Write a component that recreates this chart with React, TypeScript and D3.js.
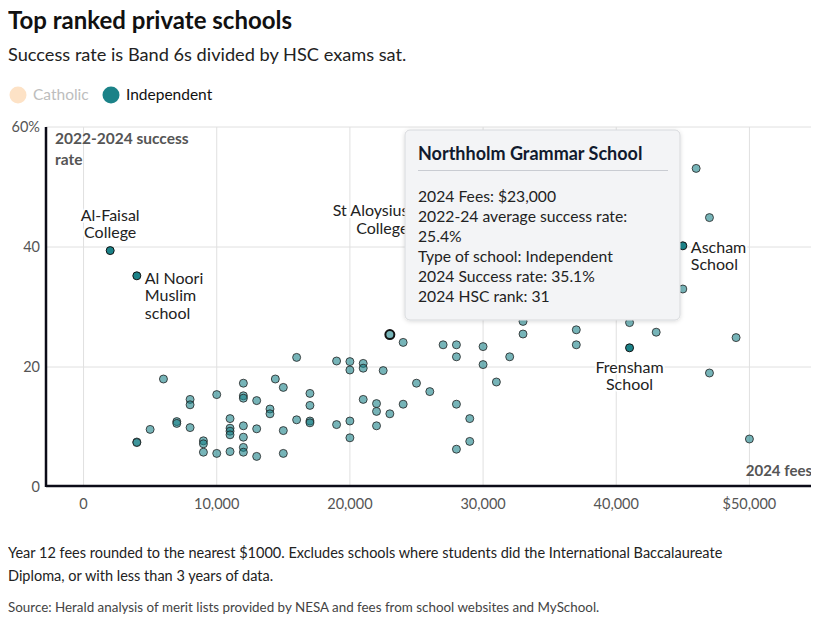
import React from "react";
import * as d3 from "d3";

// ---- DATA ----
const fees: number[] = [
  4000, 4000, 5000, 6000, 7000, 7000, 8000, 8000, 8000, 9000, 9000, 9000,
  10000, 10000, 11000, 11000, 11000, 11000, 11000, 12000, 12000, 12000, 12000,
  12000, 12000, 12000, 13000, 13000, 13000, 14000, 14000, 14400, 15000, 15000,
  15000, 16000, 16000, 17000, 17000, 17000, 17000, 19000, 19000, 20000, 20000,
  20000, 20000, 21000, 21000, 21000, 22000, 22000, 22000, 22500, 23000, 24000,
  24000, 25000, 26000, 27000, 28000, 28000, 28000, 28000, 29000, 29000, 30000,
  30000, 31000, 32000, 33000, 33000, 37000, 37000, 41000, 43000, 45000, 46000,
  47000, 47000, 49000, 50000,
];
const rates: number[] = [
  7.5, 7.4, 9.6, 18.0, 10.9, 10.6, 14.6, 13.7, 9.9, 7.7, 7.2, 5.8,
  15.4, 5.6, 11.4, 9.8, 9.3, 8.7, 5.9, 17.3, 15.2, 14.8, 10.2,
  8.3, 6.6, 5.8, 14.4, 9.7, 5.1, 13.0, 12.2, 18.0, 16.6, 9.4,
  5.6, 21.6, 11.2, 15.6, 13.6, 11.0, 10.7, 21.0, 10.4, 20.9, 19.5,
  11.0, 8.2, 20.6, 19.8, 14.6, 13.9, 12.6, 10.2, 19.4, 12.2, 24.1,
  13.8, 17.3, 15.9, 23.7, 23.7, 21.7, 13.8, 6.3, 11.4, 7.6, 23.4,
  20.4, 17.5, 21.7, 27.6, 25.5, 26.2, 23.7, 27.4, 25.8, 33.0, 53.1,
  44.9, 19.0, 24.9, 8.0,
];

const labelNames: string[] = ["Al-Faisal College", "Al Noori Muslim school", "St Aloysius College", "Ascham School", "Frensham School"];
const labelFees: number[] = [2000, 4000, 25000, 45000, 41000];
const labelRates: number[] = [39.4, 35.2, 40.0, 40.2, 23.2];

const highlight = { name: "Northholm Grammar School", fee: 23000, rate: 25.4, type: "Independent", rate2024: 35.1, rank: 31 };

const xTicks: number[] = [0, 10000, 20000, 30000, 40000, 50000];
const yTicks: number[] = [0, 20, 40, 60];
const legendItems: string[] = ["Catholic", "Independent"];

const FONT = "Lato, 'Open Sans', sans-serif";
const TEAL = "#1b8288";

export default function App() {
  const left = 46, right = 812, top = 127, bottom = 487;
  const x = d3.scaleLinear().domain([-2820, 54700]).range([left, right]);
  const y = d3.scaleLinear().domain([0, 60]).range([bottom, top]);
  const fmt = d3.format(",");

  const pts = fees.map((f, i) => ({ f, r: rates[i] }));

  const labelLayout: { [k: string]: { dx: number; dy: number; anchor: string; lines: string[] } } = {
    "Al-Faisal College": { dx: 0, dy: -30, anchor: "middle", lines: ["Al-Faisal", "College"] },
    "Al Noori Muslim school": { dx: 8, dy: 8, anchor: "start", lines: ["Al Noori", "Muslim", "school"] },
    "St Aloysius College": { dx: -8, dy: -31, anchor: "end", lines: ["St Aloysius", "College"] },
    "Ascham School": { dx: 8, dy: 7, anchor: "start", lines: ["Ascham", "School"] },
    "Frensham School": { dx: 0, dy: 25, anchor: "middle", lines: ["Frensham", "School"] },
  };

  return (
    <svg width={811} height={623} style={{ display: "block", overflow: "visible" }}>
      <defs>
        <filter id="sh" x="-10%" y="-10%" width="120%" height="130%">
          <feDropShadow dx="0" dy="1" stdDeviation="2" floodColor="#000" floodOpacity="0.15" />
        </filter>
      </defs>
      <g transform="translate(-8,-8)" fontFamily={FONT}>
        {/* Title */}
        <text x={8} y={29} fontSize={24} fontWeight={700} fill="#111">Top ranked private schools</text>
        <text x={8} y={61} fontSize={18.2} fill="#222">Success rate is Band 6s divided by HSC exams sat.</text>
        {/* Legend */}
        <circle cx={18} cy={95} r={8.5} fill="#fde2c6" />
        <text x={33} y={100} fontSize={15.5} fill="#bdbdbd">{legendItems[0]}</text>
        <circle cx={111} cy={95} r={8.5} fill={TEAL} />
        <text x={126} y={100} fontSize={15.5} fill="#111">{legendItems[1]}</text>

        {/* Grid */}
        {yTicks.filter((t) => t > 0).map((t) => (
          <line key={"gy" + t} x1={left} x2={right} y1={y(t)} y2={y(t)} stroke="#e0e0e0" />
        ))}
        {xTicks.map((t) => (
          <line key={"gx" + t} x1={x(t)} x2={x(t)} y1={top} y2={bottom} stroke="#e0e0e0" />
        ))}
        {/* Y tick labels */}
        {yTicks.map((t) => (
          <text key={"yl" + t} x={40} y={y(t) + 5} textAnchor="end" fontSize={14.5} fill="#555">
            {t === 60 ? "60%" : t}
          </text>
        ))}
        {/* X tick labels */}
        {xTicks.map((t) => (
          <text key={"xl" + t} x={x(t)} y={509} textAnchor="middle" fontSize={14.5} fill="#555">
            {t === 50000 ? "$" + fmt(t) : fmt(t)}
          </text>
        ))}
        {/* Axis titles */}
        <text x={55} y={144} fontSize={15.5} fontWeight={700} fill="#555">2022-2024 success</text>
        <text x={55} y={165} fontSize={15.5} fontWeight={700} fill="#555">rate</text>
        <text x={812} y={476} textAnchor="end" fontSize={15} fontWeight={700} fill="#555">2024 fees</text>

        {/* Points */}
        {pts.map((p, i) => (
          <circle key={"p" + i} cx={x(p.f)} cy={y(p.r)} r={4} fill={TEAL} fillOpacity={0.6} stroke="#222" strokeOpacity={0.8} strokeWidth={1} />
        ))}
        {/* Labelled points */}
        {labelNames.map((n, i) => (
          <circle key={"lp" + i} cx={x(labelFees[i])} cy={y(labelRates[i])} r={4} fill={TEAL} stroke="#111" strokeWidth={1} />
        ))}
        {/* Highlighted */}
        <circle cx={x(highlight.fee)} cy={y(highlight.rate)} r={4.5} fill={TEAL} fillOpacity={0.6} stroke="#111" strokeWidth={2} />

        {/* Axis lines */}
        <line x1={left} x2={left} y1={top} y2={bottom} stroke="#0c0c18" strokeWidth={2.5} />
        <line x1={left} x2={right} y1={486} y2={486} stroke="#0c0c18" strokeWidth={2.5} />

        {/* Annotation labels */}
        {labelNames.map((n, i) => {
          const L = labelLayout[n];
          const cx = x(labelFees[i]) + L.dx;
          const cy = y(labelRates[i]) + L.dy;
          return (
            <text key={"lab" + i} x={cx} y={cy} textAnchor={L.anchor} fontSize={16} fill="#222"
              stroke="#fff" strokeWidth={4} paintOrder="stroke" strokeLinejoin="round">
              {L.lines.map((s, j) => (
                <tspan key={j} x={cx} dy={j === 0 ? 0 : 17.5}>{s}</tspan>
              ))}
            </text>
          );
        })}

        {/* Tooltip */}
        <g transform="translate(405,130)">
          <rect x={0} y={0} width={275} height={190} rx={5} fill="#f3f4f6" stroke="#d8dadd" filter="url(#sh)" />
          <text x={13} y={30} fontSize={18} fontWeight={700} fill="#111a2e">{highlight.name}</text>
          <line x1={13} x2={263} y1={40.5} y2={40.5} stroke="#c9ccd2" />
          {[
            `2024 Fees: $${fmt(highlight.fee)}`,
            "2022-24 average success rate:",
            `${highlight.rate}%`,
            `Type of school: ${highlight.type}`,
            `2024 Success rate: ${highlight.rate2024}%`,
            `2024 HSC rank: ${highlight.rank}`,
          ].map((s, i) => (
            <text key={"tt" + i} x={13} y={72 + i * 20} fontSize={15.7} fill="#222">{s}</text>
          ))}
        </g>

        {/* Footer */}
        <text x={8} y={558} fontSize={14.5} fill="#222">Year 12 fees rounded to the nearest $1000. Excludes schools where students did the International Baccalaureate</text>
        <text x={8} y={581} fontSize={14.5} fill="#222">Diploma, or with less than 3 years of data.</text>
        <text x={8} y={612} fontSize={13.4} fill="#444">Source: Herald analysis of merit lists provided by NESA and fees from school websites and MySchool.</text>
      </g>
    </svg>
  );
}
